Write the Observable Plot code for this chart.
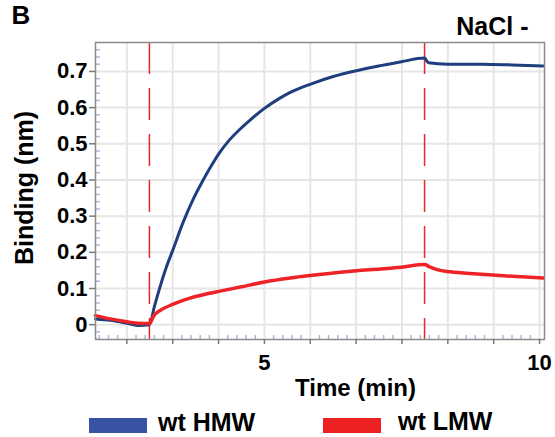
<!DOCTYPE html>
<html>
<head>
<meta charset="utf-8">
<script src="https://cdn.jsdelivr.net/npm/d3@7"></script>
<script src="https://cdn.jsdelivr.net/npm/@observablehq/plot@0.6"></script>
<style>
  html, body { margin: 0; padding: 0; background: #fff; }
  #root { position: relative; width: 555px; height: 437px; font-family: "Liberation Sans", Arial, sans-serif; font-weight: bold; }
  #root svg { position: absolute; left: 0; top: 0; }
  .sw { position: absolute; width: 58px; height: 15px; }
  .lab { position: absolute; font-size: 25px; line-height: 25px; color: #000; white-space: nowrap; }
</style>
</head>
<body>
<div id="root"></div>
<script>
// ---- data (time in minutes, binding in nm) ----
const seriesNames = ["wt HMW", "wt LMW"];
const lineColors = ["#1f3e7d", "#ee2328"];
const legendColors = ["#3953a4", "#ed2024"];

const hmwTime = [1.93, 2.2, 2.5, 2.7, 2.91, 3.0, 3.11, 3.22, 3.33, 3.52, 3.7, 3.87, 4.0, 4.17, 4.35, 4.56, 4.75, 5.0, 5.29, 5.47, 5.84, 6.25, 6.67, 7.11, 7.49, 7.91, 7.98, 8.33, 8.93, 9.5, 10.07];
const hmwBinding = [0.016, 0.012, 0.004, -0.002, 0.0, 0.05, 0.108, 0.160, 0.204, 0.282, 0.345, 0.395, 0.430, 0.472, 0.508, 0.541, 0.567, 0.598, 0.627, 0.642, 0.665, 0.686, 0.702, 0.716, 0.727, 0.737, 0.724, 0.720, 0.720, 0.718, 0.715];

const lmwTime = [1.93, 2.2, 2.5, 2.7, 2.91, 2.99, 3.05, 3.11, 3.33, 3.66, 3.87, 4.17, 4.56, 5.0, 5.47, 5.84, 6.38, 6.67, 7.11, 7.49, 7.91, 8.0, 8.14, 8.38, 8.87, 9.35, 10.07];
const lmwBinding = [0.025, 0.016, 0.008, 0.004, 0.003, 0.025, 0.034, 0.040, 0.056, 0.074, 0.082, 0.092, 0.104, 0.118, 0.129, 0.136, 0.145, 0.149, 0.154, 0.159, 0.166, 0.160, 0.152, 0.146, 0.140, 0.135, 0.129];

// injection / dissociation step times (min)
const stepTimes = [2.91, 7.91];

// ticks
const xMajorSec = [150, 200, 250, 300, 350, 400, 450, 500, 550, 600];
const xLabelTicks = [5, 10];
const yMajor = [0, 0.1, 0.2, 0.3, 0.4, 0.5, 0.6, 0.7];

const xMajor = xMajorSec.map(s => s / 60);
const xMinor = d3.range(120, 610, 10).filter(s => s % 50 !== 0).map(s => s / 60);
const yMinor = d3.range(-2, 39).filter(i => i % 5 !== 0).map(i => i * 0.02);

const hmw = hmwTime.map((t, i) => ({t, v: hmwBinding[i]}));
const lmw = lmwTime.map((t, i) => ({t, v: lmwBinding[i]}));

const FONT = '"Liberation Sans", Arial, sans-serif';

const chart = Plot.plot({
  width: 555,
  height: 405,
  marginLeft: 95,
  marginRight: 11,
  marginTop: 42,
  marginBottom: 66,
  x: {domain: [1.93, 10.09]},
  y: {domain: [-0.041, 0.78]},
  style: {fontFamily: FONT, fontWeight: "bold", color: "#000", background: "transparent", overflow: "visible"},
  marks: [
    Plot.gridX({ticks: xMajor, stroke: "#e6e6e6", strokeOpacity: 1, strokeWidth: 2}),
    Plot.gridY({ticks: yMajor, stroke: "#e6e6e6", strokeOpacity: 1, strokeWidth: 2}),
    Plot.axisY({ticks: yMinor, tickSize: -5, tickFormat: () => "", stroke: "#b4b4de", strokeWidth: 1.5, label: null}),
    Plot.axisX({ticks: xMinor, tickSize: -4, tickFormat: () => "", stroke: "#b4b4de", strokeWidth: 1.5, label: null}),
    Plot.ruleX(stepTimes, {stroke: "#e8262e", strokeWidth: 1.5, strokeDasharray: "32,14"}),
    Plot.line(hmw, {x: "t", y: "v", stroke: lineColors[0], strokeWidth: 3, curve: "monotone-x"}),
    Plot.line(lmw, {x: "t", y: "v", stroke: lineColors[1], strokeWidth: 3.5, curve: "monotone-x"}),
    Plot.frame({stroke: "#8a8a8a", strokeWidth: 1.5}),
    Plot.axisY({ticks: yMajor, tickSize: 6, tickPadding: 2, stroke: "#7a7a7a", strokeWidth: 1.5, fill: "#000",
      fontSize: 22, fontWeight: "bold", label: null,
      tickFormat: d => d === 0 ? "0" : d3.format(".1f")(d)}),
    Plot.axisX({ticks: xMajor, tickSize: 5, tickFormat: () => "", stroke: "#7a7a7a", strokeWidth: 1.5, label: null}),
    Plot.axisX({ticks: xLabelTicks, tickSize: 0, tickPadding: 15, fill: "#000", fontSize: 22, fontWeight: "bold",
      label: null, tickFormat: d => String(d)}),
    Plot.text(["B"], {text: d => d, frameAnchor: "top-left", dx: -84, dy: -19, textAnchor: "start", lineAnchor: "bottom", fontSize: 26, fontWeight: "bold", fill: "#000"}),
    Plot.text(["NaCl -"], {text: d => d, frameAnchor: "top-right", dx: -16, dy: -8, textAnchor: "end", lineAnchor: "bottom", fontSize: 25, fontWeight: "bold", fill: "#000"}),
    Plot.text(["Binding (nm)"], {text: d => d, frameAnchor: "left", dx: -63, dy: -3, rotate: -90, textAnchor: "middle", lineAnchor: "bottom", fontSize: 25, fontWeight: "bold", fill: "#000"}),
    Plot.text(["Time (min)"], {text: d => d, frameAnchor: "bottom", dx: 35.5, dy: 56, textAnchor: "middle", lineAnchor: "bottom", fontSize: 24, fontWeight: "bold", fill: "#000"})
  ]
});

const root = document.getElementById("root");
root.appendChild(chart);

// legend below the chart
const legendPos = [{sx: 89, tx: 158}, {sx: 323, tx: 398}];
seriesNames.forEach((name, i) => {
  const sw = document.createElement("div");
  sw.className = "sw";
  sw.style.left = legendPos[i].sx + "px";
  sw.style.top = "418px";
  sw.style.background = legendColors[i];
  root.appendChild(sw);
  const lab = document.createElement("div");
  lab.className = "lab";
  lab.style.left = legendPos[i].tx + "px";
  lab.style.top = (i === 0 ? 410 : 409) + "px";
  lab.textContent = name;
  root.appendChild(lab);
});
</script>
</body>
</html>
